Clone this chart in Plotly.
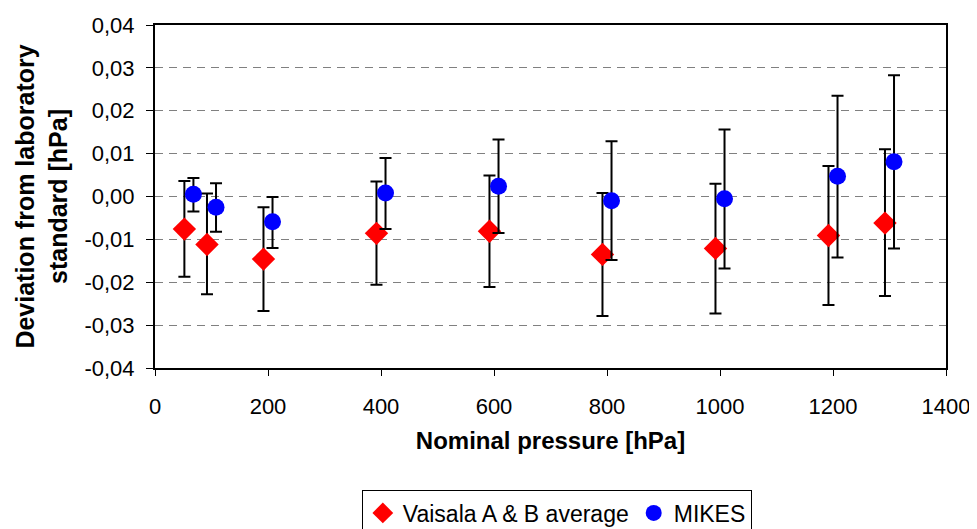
import plotly.graph_objects as go

# Data
vaisala_x = [52, 92, 192, 392, 592, 792, 992, 1192, 1292]
vaisala_y = [-0.0076, -0.0112, -0.0146, -0.0086, -0.0081, -0.0135, -0.0121, -0.0091, -0.0062]
vaisala_upper = [0.0036, 0.0007, -0.0025, 0.0035, 0.0049, 0.0008, 0.0030, 0.0071, 0.0110]
vaisala_lower = [-0.0187, -0.0228, -0.0267, -0.0206, -0.0211, -0.0279, -0.0273, -0.0253, -0.0232]

mikes_x = [68, 108, 208, 408, 608, 808, 1008, 1208, 1308]
mikes_y = [0.0005, -0.0025, -0.0059, 0.0008, 0.0024, -0.0010, -0.0005, 0.0047, 0.0081]
mikes_upper = [0.0043, 0.0031, -0.0001, 0.0090, 0.0133, 0.0129, 0.0156, 0.0235, 0.0283]
mikes_lower = [-0.0035, -0.0082, -0.0120, -0.0076, -0.0085, -0.0148, -0.0168, -0.0142, -0.0121]

y_tick_vals = [0.04, 0.03, 0.02, 0.01, 0.0, -0.01, -0.02, -0.03, -0.04]
y_tick_text = ["0,04", "0,03", "0,02", "0,01", "0,00", "-0,01", "-0,02", "-0,03", "-0,04"]
x_tick_vals = [0, 200, 400, 600, 800, 1000, 1200, 1400]

def err(y, up, lo):
    plus = [u - v for u, v in zip(up, y)]
    minus = [v - l for v, l in zip(y, lo)]
    return plus, minus

vp, vm = err(vaisala_y, vaisala_upper, vaisala_lower)
mp, mm = err(mikes_y, mikes_upper, mikes_lower)

fig = go.Figure()
fig.add_trace(go.Scatter(
    x=vaisala_x, y=vaisala_y, mode="markers", name="Vaisala A & B average",
    marker=dict(symbol="diamond", size=18, color="#FF0000"),
    error_y=dict(type="data", symmetric=False, array=vp, arrayminus=vm,
                 color="black", thickness=2, width=6),
))
fig.add_trace(go.Scatter(
    x=mikes_x, y=mikes_y, mode="markers", name="MIKES",
    marker=dict(symbol="circle", size=17, color="#0000FF"),
    error_y=dict(type="data", symmetric=False, array=mp, arrayminus=mm,
                 color="black", thickness=2, width=6),
))

font_family = "Liberation Sans, Arial, sans-serif"
fig.update_layout(
    template="none",
    width=969, height=521,
    margin=dict(l=147, r=31, t=17, b=161, pad=0, autoexpand=False),
    paper_bgcolor="white", plot_bgcolor="white",
    font=dict(family=font_family, size=22, color="black"),
    showlegend=True,
    legend=dict(
        orientation="h", x=0.508, xanchor="center", y=-0.357, yanchor="top",
        bordercolor="black", borderwidth=1, font=dict(size=23),
        itemwidth=30, bgcolor="white",
    ),
    xaxis=dict(
        range=[0, 1400], tickvals=x_tick_vals, ticks="outside", ticklen=6,
        tickcolor="black", tickwidth=1, showline=True, linecolor="black", linewidth=2,
        mirror=True, showgrid=False, zeroline=False, automargin=False,
        tickfont=dict(size=22), ticklabelstandoff=12,
        title=dict(text="<b>Nominal pressure [hPa]</b>", font=dict(size=24), standoff=14),
    ),
    yaxis=dict(
        range=[-0.04, 0.04], tickvals=y_tick_vals, ticktext=y_tick_text,
        ticks="outside", ticklen=7, tickcolor="black", tickwidth=1,
        showline=True, linecolor="black", linewidth=2, mirror=True,
        showgrid=True, gridcolor="#808080", gridwidth=1.2, griddash="8px,6px",
        zeroline=False, automargin=False, tickfont=dict(size=22), ticklabelstandoff=7,
        title=dict(text="<b>Deviation from laboratory<br>standard [hPa]</b>",
                   font=dict(size=25), standoff=10),
    ),
)

fig.write_html("out.html")
